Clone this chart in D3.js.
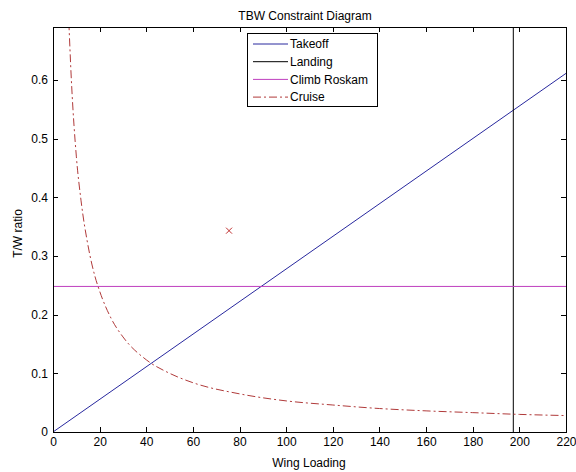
<!DOCTYPE html>
<html>
<head>
<meta charset="utf-8">
<script src="https://cdn.jsdelivr.net/npm/d3@7"></script>
<style>
  html, body { margin: 0; padding: 0; background: #fff; }
  svg { display: block; }
  text { font-family: "Liberation Sans", Arial, sans-serif; fill: #000; }
</style>
</head>
<body>
<svg id="chart" width="576" height="472"></svg>
<script>
// Constraint lines for the TBW sizing study
const xTicks = [0, 20, 40, 60, 80, 100, 120, 140, 160, 180, 200, 220];
const yTicks = [0, 0.1, 0.2, 0.3, 0.4, 0.5, 0.6];

// Takeoff: straight line through the origin
const takeoffX = [0, 220];
const takeoffY = [0, 0.611];

// Landing: vertical limit on wing loading
const landingWS = 197.4;

// Climb (Roskam): constant thrust-to-weight requirement
const climbTW = 0.248;

// Cruise requirement sampled along wing loading
const cruiseX = [6, 8, 10, 12, 15, 18, 20, 25, 30, 40, 50, 60, 80, 100, 120, 140, 160, 180, 200, 220];
const cruiseY = [0.78, 0.59, 0.47, 0.395, 0.318, 0.265, 0.24, 0.193, 0.162, 0.123, 0.100, 0.084,
                 0.065, 0.053, 0.046, 0.040, 0.036, 0.033, 0.030, 0.028];

// Selected design point
const designX = [75.5];
const designY = [0.343];

const legendNames = ["Takeoff", "Landing", "Climb Roskam", "Cruise"];
const colors = { takeoff: "#28289e", landing: "#000000", climb: "#bf3fbf", cruise: "#b03a3a" };

const svg = d3.select("#chart");
const L = 53, R = 566, T = 27, B = 432;
const FS = "12px";

const x = d3.scaleLinear().domain([0, 220]).range([L, R]);
const y = d3.scaleLinear().domain([0, 0.69]).range([B, T]);

svg.append("defs").append("clipPath").attr("id", "plotclip")
  .append("rect").attr("x", L).attr("y", T).attr("width", R - L).attr("height", B - T);

const plot = svg.append("g").attr("clip-path", "url(#plotclip)");
const line = d3.line().x(d => x(d[0])).y(d => y(d[1]));

// Takeoff
plot.append("path")
  .attr("d", line(takeoffX.map((v, i) => [v, takeoffY[i]])))
  .attr("fill", "none").attr("stroke", colors.takeoff).attr("stroke-width", 1);

// Landing
plot.append("path")
  .attr("d", line([[landingWS, 0], [landingWS, 0.69]]))
  .attr("fill", "none").attr("stroke", colors.landing).attr("stroke-width", 1);

// Climb
plot.append("path")
  .attr("d", line([[0, climbTW], [220, climbTW]]))
  .attr("fill", "none").attr("stroke", colors.climb).attr("stroke-width", 1);

// Cruise
plot.append("path")
  .attr("d", d3.line().curve(d3.curveMonotoneX).x(d => x(d[0])).y(d => y(d[1]))(cruiseX.map((v, i) => [v, cruiseY[i]])))
  .attr("fill", "none").attr("stroke", colors.cruise).attr("stroke-width", 1)
  .attr("stroke-dasharray", "8,3,2,3");

// Design point marker
designX.forEach((v, i) => {
  const cx = x(v), cy = y(designY[i]), s = 3;
  plot.append("path")
    .attr("d", `M${cx - s},${cy - s}L${cx + s},${cy + s}M${cx - s},${cy + s}L${cx + s},${cy - s}`)
    .attr("stroke", "#c03030").attr("stroke-width", 1).attr("fill", "none");
});

// Axes (inward ticks, boxed)
const fmtY = d => d === 0 ? "0" : d3.format(".1f")(d);
const axB = svg.append("g").attr("transform", `translate(0,${B})`)
  .call(d3.axisBottom(x).tickValues(xTicks).tickSize(-5).tickPadding(5).tickFormat(d3.format("d")));
const axL = svg.append("g").attr("transform", `translate(${L},0)`)
  .call(d3.axisLeft(y).tickValues(yTicks).tickSize(-5).tickPadding(5).tickFormat(fmtY));
const axT = svg.append("g").attr("transform", `translate(0,${T})`)
  .call(d3.axisTop(x).tickValues(xTicks).tickSize(-5).tickFormat(""));
const axR = svg.append("g").attr("transform", `translate(${R},0)`)
  .call(d3.axisRight(y).tickValues(yTicks).tickSize(-5).tickFormat(""));
[axB, axL, axT, axR].forEach(g => {
  g.selectAll("path.domain").attr("stroke", "#000").attr("shape-rendering", "crispEdges");
  g.selectAll(".tick line").attr("stroke", "#000").attr("shape-rendering", "crispEdges");
  g.selectAll("text").style("font-size", FS).style("font-family", "'Liberation Sans', Arial, sans-serif");
});

// Title and axis labels
svg.append("text").attr("x", 305).attr("y", 20).attr("text-anchor", "middle")
  .style("font-size", FS).text("TBW Constraint Diagram");
svg.append("text").attr("x", 309).attr("y", 467).attr("text-anchor", "middle")
  .style("font-size", FS).text("Wing Loading");
svg.append("text").attr("transform", `translate(22,${(T + B) / 2 + 4}) rotate(-90)`)
  .attr("text-anchor", "middle").style("font-size", FS).text("T/W ratio");

// Legend
const lg = svg.append("g");
lg.append("rect").attr("x", 247.5).attr("y", 33.5).attr("width", 130).attr("height", 73)
  .attr("fill", "#fff").attr("stroke", "#000").attr("stroke-width", 1);
const legendStyles = [
  { c: colors.takeoff, dash: null },
  { c: colors.landing, dash: null },
  { c: colors.climb, dash: null },
  { c: colors.cruise, dash: "8,3,2,3" }
];
legendNames.forEach((name, i) => {
  const ly = 44 + i * 17.7;
  lg.append("line").attr("x1", 253).attr("x2", 288).attr("y1", ly).attr("y2", ly)
    .attr("stroke", legendStyles[i].c).attr("stroke-width", 1)
    .attr("stroke-dasharray", legendStyles[i].dash);
  lg.append("text").attr("x", 290).attr("y", ly).attr("dy", "0.35em")
    .style("font-size", FS).text(name);
});
</script>
</body>
</html>
